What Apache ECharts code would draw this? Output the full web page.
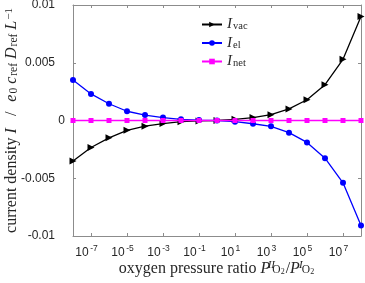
<!DOCTYPE html>
<html><head><meta charset="utf-8">
<script src="https://cdn.jsdelivr.net/npm/echarts@6/dist/echarts.min.js"></script>
<style>html,body{margin:0;padding:0;background:#fff}#c{width:365px;height:283px}</style>
</head><body><div id="c"></div>
<script>
// log10 of the oxygen pressure ratio
const exponents = [-8,-7,-6,-5,-4,-3,-2,-1,0,1,2,3,4,5,6,7,8];
const xTickExponents = [-7,-5,-3,-1,1,3,5,7];
const yTicks = [-0.01,-0.005,0,0.005,0.01];
const Ivac = [-0.0035,-0.00234,-0.0015,-0.00085,-0.00049,-0.00027,-0.0001,-0.00004,0,0.0001,0.00025,0.0005,0.001,0.0018,0.0031,0.0053,0.009];
const Iel  = [0.0035,0.0023,0.00145,0.0008,0.00047,0.00025,0.0001,0.00004,0,-0.0001,-0.00028,-0.0005,-0.00105,-0.0019,-0.00326,-0.0054,-0.0091];
const Inet = [0,0,0,0,0,0,0,0,0,0,0,0,0,0,0,0,0];
const seriesNames = ['vac','el','net'];

const serif = '"Liberation Serif", "DejaVu Serif", serif';
const sans = '"Liberation Sans", Arial, sans-serif';
const axisGrey = '#8c8c8c';
const labelColor = '#262626';

const chart = echarts.init(document.getElementById('c'), null, {renderer:'canvas'});
const pts = arr => exponents.map((e,i)=>[e, arr[i]]);

const baseX = {
  type:'value', min:-8, max:8, gridIndex:0,
  axisLine:{show:true, onZero:false, lineStyle:{color:axisGrey, width:1}},
  splitLine:{show:false},
  axisTick:{show:true, inside:true, length:3, customValues:xTickExponents, lineStyle:{color:axisGrey}}
};
const baseY = {
  type:'value', min:-0.01, max:0.01, interval:0.005,
  axisLine:{show:true, onZero:false, lineStyle:{color:axisGrey, width:1}},
  splitLine:{show:false},
  axisTick:{show:true, inside:true, length:3, lineStyle:{color:axisGrey}}
};

const titleRich = (pad) => ({
  t:{fontFamily:serif, fontSize:16, color:labelColor, lineHeight:16, padding:pad},
  it:{fontFamily:serif, fontSize:16, fontStyle:'italic', color:labelColor, lineHeight:16, padding:pad},
  sl:{fontFamily:serif, fontSize:16, color:labelColor, lineHeight:16, padding:[pad[0],10,pad[2],12]},
  sup:{fontFamily:serif, fontSize:11, fontStyle:'italic', color:labelColor, lineHeight:11, verticalAlign:'top', width:0, align:'left', padding:[0,0,0,1]},
  supr:{fontFamily:serif, fontSize:11, color:labelColor, lineHeight:11, verticalAlign:'top', padding:[0,0,0,1]},
  sub:{fontFamily:serif, fontSize:11.5, color:labelColor, lineHeight:11, verticalAlign:'bottom', padding:[0,0,0,1]},
  ss:{fontFamily:serif, fontSize:8, color:labelColor, lineHeight:8, verticalAlign:'bottom', padding:[0,1,0,0]}
});

const option = {
  animation:false,
  backgroundColor:'#fff',
  grid:{left:73, right:4, top:5, bottom:47, containLabel:false, outerBoundsMode:'none'},
  xAxis:[
    Object.assign({}, baseX, {
      position:'bottom',
      axisLabel:{show:true, customValues:xTickExponents, margin:8, padding:[0,9,0,0],
        formatter: v => '{b|10}{s|' + v + '}',
        rich:{
          b:{fontFamily:sans, fontSize:12, color:labelColor, lineHeight:14, padding:[4,0,0,0]},
          s:{fontFamily:sans, fontSize:8.5, color:labelColor, verticalAlign:'top', lineHeight:8, padding:[0,0,0,1.5]}
        }},
      name:'{t|oxygen pressure ratio }{it|P}{sup|II}{sub|O}{ss|2}{t|/}{it|P}{sup|I}{sub|O}{ss|2}',
      nameLocation:'middle', nameGap:24, nameMoveOverlap:false,
      nameTextStyle:{ rich:titleRich([5,0,4,0]) }
    }),
    Object.assign({}, baseX, {position:'top', axisLabel:{show:false}})
  ],
  yAxis:[
    Object.assign({}, baseY, {
      position:'left',
      axisLabel:{show:true, margin:8,
        formatter: v => v === 0 ? '{z|0}' : '{n|' + String(+v.toFixed(3)) + '}',
        rich:{
          n:{fontFamily:sans, fontSize:12, color:labelColor, padding:[0,10,0,0]},
          z:{fontFamily:sans, fontSize:12, color:labelColor}
        }},
      name:'{t|current density }{it|I}{sl|/}{it|e}{sub|0}{it| c}{sub|ref}{it| D}{sub|ref}{it| L}{supr|−1}',
      nameLocation:'middle', nameGap:53, nameRotate:90, nameMoveOverlap:false,
      nameTextStyle:{ padding:[0,0,0,0], rich:titleRich([4,0,4,0]) }
    }),
    Object.assign({}, baseY, {position:'right', axisLabel:{show:false}})
  ],
  legend:{
    show:true, orient:'vertical', left:196, top:12, itemWidth:20, itemHeight:7, itemGap:3.5,
    data:seriesNames,
    formatter: n => '{i|I}{s|' + n + '}',
    textStyle:{
      rich:{
        i:{fontFamily:serif, fontSize:15, fontStyle:'italic', color:labelColor, lineHeight:15},
        s:{fontFamily:serif, fontSize:10.5, color:labelColor, lineHeight:10, verticalAlign:'bottom', padding:[0,0,0,1]}
      }
    }
  },
  series:[
    {name:'vac', type:'line', data:pts(Ivac), symbol:'triangle', symbolRotate:-90, symbolSize:7,
     lineStyle:{color:'#000', width:1.3}, itemStyle:{color:'#000'}, z:3},
    {name:'el', type:'line', data:pts(Iel), symbol:'circle', symbolSize:6,
     lineStyle:{color:'#0000ff', width:1.3}, itemStyle:{color:'#0000ff'}, z:4},
    {name:'net', type:'line', data:pts(Inet), symbol:'rect', symbolSize:5,
     lineStyle:{color:'#ff00ff', width:1.3}, itemStyle:{color:'#ff00ff'}, z:5}
  ]
};
chart.setOption(option);
</script></body></html>
